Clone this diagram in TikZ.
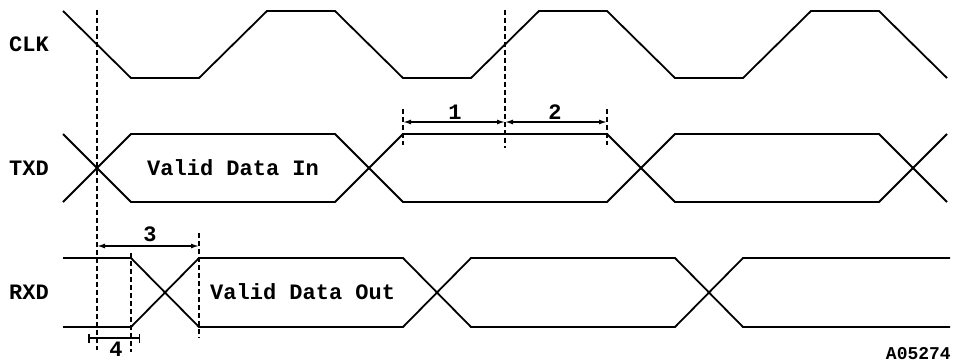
\documentclass[tikz,border=0pt]{standalone}
\usepackage{fontspec}
\setmainfont{Liberation Mono}
\usetikzlibrary{arrows.meta}
\tikzset{
  sig/.style={line width=1.8pt, line join=miter},
  guide/.style={line width=1.4pt, dash pattern=on 5pt off 3pt},
  dim/.style={line width=1.5pt, {Latex[length=8pt,width=5pt]}-{Latex[length=8pt,width=5pt]}},
  bardim/.style={line width=1.5pt, {Bar[width=9pt]}-{Bar[width=9pt]}},
  lbl/.style={inner sep=0pt, font=\bfseries\fontsize{22}{24}\selectfont},
  num/.style={inner sep=0pt, font=\bfseries\fontsize{22}{24}\selectfont},
  code/.style={inner sep=0pt, font=\bfseries\fontsize{18}{20}\selectfont}
}
\begin{document}
\begin{tikzpicture}[x=1pt,y=-1pt]
\useasboundingbox (0,0) rectangle (956,364);
% signal names
\node[lbl, anchor=west] (clk) at (9,44) {CLK};
\node[lbl, anchor=west] (txd) at (9,168) {TXD};
\node[lbl, anchor=west] (rxd) at (9,292) {RXD};
% CLK
\draw[sig] (63,11) -- (131,78) -- (199,78) -- (267,11) -- (335,11) -- (403,78)
  -- (471,78) -- (539,11) -- (607,11) -- (675,78) -- (743,78) -- (811,11)
  -- (879,11) -- (947,78);
% TXD
\draw[sig] (63,134) -- (131,202) -- (335,202) -- (403,134) -- (607,134)
  -- (675,202) -- (879,202) -- (947,134);
\draw[sig] (63,202) -- (131,134) -- (335,134) -- (403,202) -- (607,202)
  -- (675,134) -- (879,134) -- (947,202);
% RXD
\draw[sig] (63,258) -- (131,258) -- (199,327) -- (403,327) -- (471,258)
  -- (675,258) -- (743,327) -- (950,327);
\draw[sig] (63,327) -- (131,327) -- (199,258) -- (403,258) -- (471,327)
  -- (675,327) -- (743,258) -- (950,258);
% data labels
\node[lbl, anchor=west] (vin) at (147,168) {Valid Data In};
\node[lbl, anchor=west] (vout) at (210,292) {Valid Data Out};
% guide lines
\coordinate (g1t) at (97,10);   \coordinate (g1b) at (97,350);
\coordinate (g2t) at (505,10);  \coordinate (g2b) at (505,148);
\coordinate (g3t) at (403,109); \coordinate (g3b) at (403,145);
\coordinate (g4t) at (607,109); \coordinate (g4b) at (607,145);
\coordinate (g5t) at (131,253); \coordinate (g5b) at (131,352);
\coordinate (g6t) at (199,233); \coordinate (g6b) at (199,338);
\draw[guide] (g1t) -- (g1b);
\draw[guide] (g2t) -- (g2b);
\draw[guide] (g3t) -- (g3b);
\draw[guide] (g4t) -- (g4b);
\draw[guide] (g5t) -- (g5b);
\draw[guide] (g6t) -- (g6b);
% dimensions
\coordinate (a1l) at (403,122); \coordinate (a1r) at (505,122);
\coordinate (a2r) at (607,122);
\coordinate (a3l) at (97,246);  \coordinate (a3r) at (199,246);
\coordinate (a4l) at (88,338);  \coordinate (a4r) at (140,338);
\draw[dim] (a1l) -- (a1r);
\draw[dim] (a1r) -- (a2r);
\draw[dim] (a3l) -- (a3r);
\draw[bardim] (a4l) -- (a4r);
\node[num] (n1) at (455,112) {1};
\node[num] (n2) at (555,112) {2};
\node[num] (n3) at (150,234) {3};
\node[num] (n4) at (116,349) {4};
\node[code, anchor=east] (fig) at (951,354) {A05274};
\end{tikzpicture}
\end{document}
